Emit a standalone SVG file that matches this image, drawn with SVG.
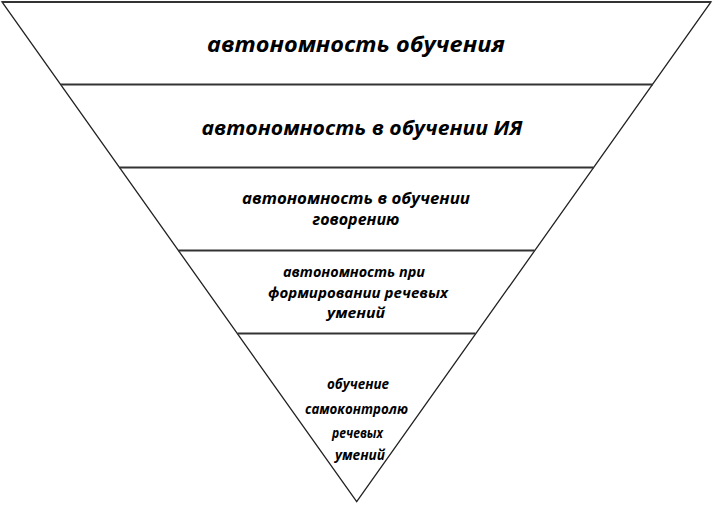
<svg xmlns="http://www.w3.org/2000/svg" width="713" height="505" viewBox="0 0 713 505">
<style>
  .edge{fill:none;stroke:#222;stroke-width:1.3}
  .div{stroke:#333;stroke-width:1.8}
  text{font-family:"Open Sans","Noto Sans","DejaVu Sans",sans-serif;font-weight:bold;font-style:italic;fill:#000;text-anchor:middle}
</style>
<rect width="713" height="505" fill="#fff"/>
<g id="connectors">
  <polygon class="edge" points="2,2 711,2 356.7,501.7"/>
  <line class="div" x1="2" y1="2" x2="711" y2="2"/>
  <line class="div" x1="61" y1="84.5" x2="653" y2="84.5"/>
  <line class="div" x1="119.5" y1="167.5" x2="593.5" y2="167.5"/>
  <line class="div" x1="178.5" y1="250.5" x2="534.5" y2="250.5"/>
  <line class="div" x1="237.5" y1="333.5" x2="475.5" y2="333.5"/>
</g>
<g id="level1"><text x="356" y="52" font-size="22" textLength="298" lengthAdjust="spacingAndGlyphs">автономность обучения</text></g>
<g id="level2"><text x="362" y="135" font-size="19" textLength="321" lengthAdjust="spacingAndGlyphs">автономность в обучении ИЯ</text></g>
<g id="level3">
  <text x="356" y="204" font-size="16.5" textLength="228" lengthAdjust="spacingAndGlyphs">автономность в обучении</text>
  <text x="356" y="225" font-size="16.5" textLength="87" lengthAdjust="spacingAndGlyphs">говорению</text>
</g>
<g id="level4">
  <text x="354" y="277" font-size="15" textLength="142" lengthAdjust="spacingAndGlyphs">автономность при</text>
  <text x="358" y="298" font-size="15" textLength="180" lengthAdjust="spacingAndGlyphs">формировании речевых</text>
  <text x="356" y="318" font-size="15" textLength="58" lengthAdjust="spacingAndGlyphs">умений</text>
</g>
<g id="level5">
  <text x="358" y="389" font-size="14" textLength="62" lengthAdjust="spacingAndGlyphs">обучение</text>
  <text x="356.5" y="414" font-size="14" textLength="103" lengthAdjust="spacingAndGlyphs">самоконтролю</text>
  <text x="357.5" y="438" font-size="14" textLength="51" lengthAdjust="spacingAndGlyphs">речевых</text>
  <text x="360" y="460" font-size="14" textLength="50" lengthAdjust="spacingAndGlyphs">умений</text>
</g>
</svg>
